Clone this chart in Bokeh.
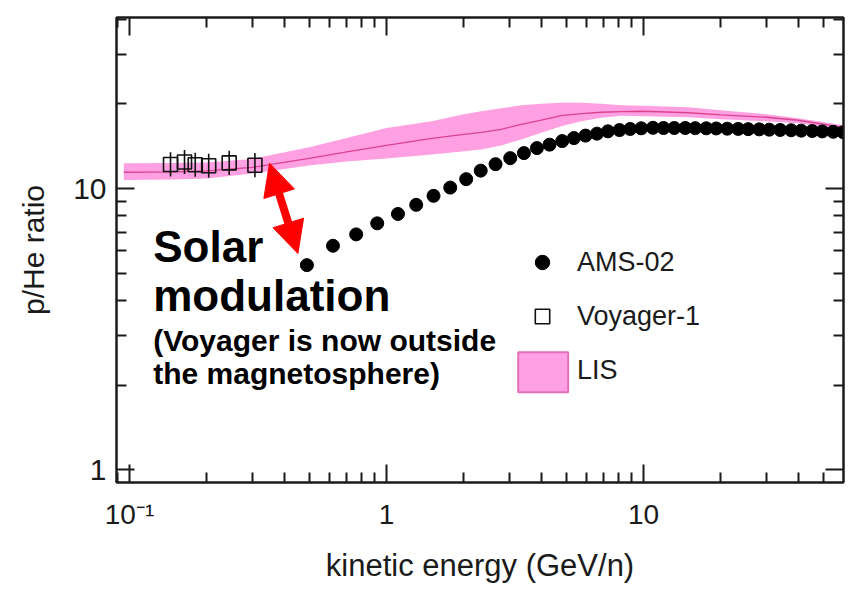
from bokeh.plotting import figure
from bokeh.models import (LogAxis, FixedTicker, Arrow, NormalHead, Label, Legend,
                          LegendItem, Range1d, BoxAnnotation)
from bokeh.embed import file_html
from bokeh.resources import INLINE

# ---------------- data ----------------
ams_e = [0.490, 0.619, 0.762, 0.920, 1.108, 1.305, 1.524, 1.770, 2.042, 2.326,
         2.656, 3.030, 3.425, 3.848, 4.309, 4.827, 5.361, 5.949, 6.589, 7.270,
         8.064, 8.877, 9.797, 10.88, 11.96, 13.17, 14.53, 15.89, 17.54, 19.18,
         21.17, 23.36, 25.55, 28.19, 30.84, 34.03, 37.55, 41.08, 45.34, 49.58,
         54.72, 59.84]
ams_ratio = [5.34, 6.26, 6.87, 7.52, 8.12, 8.75, 9.42, 10.08, 10.80, 11.58,
             12.21, 12.83, 13.37, 13.93, 14.33, 14.75, 15.12, 15.43, 15.68, 15.98,
             16.15, 16.29, 16.38, 16.45, 16.42, 16.42, 16.42, 16.40, 16.38, 16.36,
             16.33, 16.30, 16.27, 16.24, 16.20, 16.16, 16.12, 16.07, 16.02, 15.97,
             15.92, 15.87]

voy_e = [0.1444, 0.1637, 0.1802, 0.2033, 0.2443, 0.3076]
voy_ratio = [12.18, 12.43, 12.15, 12.06, 12.34, 12.11]
voy_lo = [11.03, 11.26, 11.01, 10.92, 11.18, 10.97]
voy_hi = [13.45, 13.72, 13.41, 13.31, 13.62, 13.37]

lis_e = [0.095, 0.15, 0.2, 0.3, 0.5, 0.7, 1, 1.5, 2, 2.336, 2.795, 3.344, 4.0,
         4.784, 5.72, 6.85, 8.19, 10, 15, 20, 30, 40, 60]
lis_mid = [11.43, 11.47, 11.55, 11.89, 12.80, 13.50, 14.24, 15.09, 15.59, 15.85,
           16.24, 16.93, 17.50, 18.16, 18.46, 18.68, 18.79, 18.84, 18.61, 18.30,
           17.93, 17.50, 16.51]
lis_hi = [12.31, 12.33, 12.38, 12.75, 14.02, 15.14, 16.41, 17.35, 18.38, 18.84,
          19.31, 19.79, 20.04, 20.20, 20.20, 20.04, 19.79, 19.71, 19.47, 19.00,
          18.38, 17.78, 16.79]
lis_lo = [10.72, 10.77, 10.86, 11.31, 12.08, 12.49, 12.80, 13.23, 13.56, 13.78,
          14.24, 14.96, 15.78, 16.65, 17.35, 17.86, 18.16, 18.08, 17.93, 17.64,
          17.35, 17.07, 16.24]

x_major = [0.1, 1, 10]
x_major_labels = ["10\u207b\u00b9", "1", "10"]
x_minor = [0.09, 0.2, 0.3, 0.4, 0.5, 0.6, 0.7, 0.8, 0.9,
           2, 3, 4, 5, 6, 7, 8, 9, 20, 30, 40, 50]
y_major = [1, 10]
y_major_labels = ["1", "10"]
y_minor = [2, 3, 4, 5, 6, 7, 8, 9, 20, 30, 40]

FONT = "Liberation Sans"
AX = "#1a1a1a"
PINK = "#ffa0e2"

p = figure(width=859, height=592, x_axis_type="log", y_axis_type="log",
           x_range=Range1d(0.089, 60), y_range=Range1d(0.9, 40.6),
           output_backend="svg", toolbar_location=None,
           min_border_left=116, min_border_right=16, min_border_top=17,
           min_border_bottom=110)
p.grid.visible = False
p.outline_line_color = AX
p.outline_line_width = 2
p.background_fill_color = "white"
p.border_fill_color = "white"


def style(ax, ticks, minors):
    ax.ticker = FixedTicker(ticks=ticks, minor_ticks=minors)
    ax.major_tick_in = 18
    ax.major_tick_out = 0
    ax.minor_tick_in = 10
    ax.minor_tick_out = 0
    ax.axis_line_color = AX
    ax.axis_line_width = 2
    ax.major_tick_line_color = AX
    ax.major_tick_line_width = 2
    ax.minor_tick_line_color = AX
    ax.minor_tick_line_width = 2
    ax.major_label_text_font = FONT
    ax.major_label_text_color = AX
    ax.axis_label_text_font = FONT
    ax.axis_label_text_font_style = "normal"
    ax.axis_label_text_color = AX


xa = p.xaxis[0]
style(xa, x_major, x_minor)
xa.major_label_overrides = dict(zip(x_major, x_major_labels))
xa.major_label_text_font_size = "28px"
xa.major_label_standoff = 16
xa.axis_label = "kinetic energy (GeV/n)"
xa.axis_label_text_font_size = "31px"
xa.axis_label_standoff = 15

ya = p.yaxis[0]
style(ya, y_major, y_minor)
ya.major_label_overrides = dict(zip(y_major, y_major_labels))
ya.major_label_text_font_size = "30px"
ya.major_label_standoff = 10
ya.axis_label = "p/He ratio"
ya.axis_label_text_font_size = "30px"
ya.axis_label_standoff = 20

top = LogAxis()
style(top, x_major, x_minor)
top.major_label_text_font_size = "1px"
top.major_label_text_color = None
top.major_label_standoff = 0
p.add_layout(top, "above")

right = LogAxis()
style(right, y_major, y_minor)
right.major_label_text_font_size = "1px"
right.major_label_text_color = None
right.major_label_standoff = 0
p.add_layout(right, "right")

# LIS band and central line
band = p.varea(x=lis_e, y1=lis_lo, y2=lis_hi, fill_color=PINK, fill_alpha=1.0)
p.line(lis_e, lis_mid, line_color="#d9438f", line_width=1.3)

# Voyager-1
p.segment(x0=voy_e, y0=voy_lo, x1=voy_e, y1=voy_hi, line_color="#111111", line_width=1.6)
voy = p.scatter(voy_e, voy_ratio, marker="square", size=14, fill_color=None,
                line_color="#111111", line_width=1.6)

# AMS-02
ams = p.scatter(ams_e, ams_ratio, marker="circle", size=13, fill_color="black",
                line_color="black")

# red double arrow
p.add_layout(Arrow(x_start=0.3506, y_start=12.31, x_end=0.452, y_end=5.874,
                   line_color="red", line_width=8,
                   start=NormalHead(size=32, fill_color="red", line_color="red"),
                   end=NormalHead(size=32, fill_color="red", line_color="red")))

# annotation text
for txt, yy, fs in [("Solar", 6.208, "44px"), ("modulation", 4.149, "44px"),
                    ("(Voyager is now outside", 2.888, "30px"),
                    ("the magnetosphere)", 2.202, "30px")]:
    p.add_layout(Label(x=0.1237, y=yy, text=txt, text_font=FONT, text_font_size=fs,
                       text_font_style="bold", text_color="black",
                       text_baseline="alphabetic", text_align="left"))

# bordered swatch behind the LIS legend entry
p.add_layout(BoxAnnotation(left=3.254, right=5.093, top=2.618, bottom=1.884,
                           fill_color=PINK, fill_alpha=1.0, line_color="#e070b8",
                           line_width=2, line_alpha=1.0))

legend = Legend(items=[LegendItem(label="AMS-02", renderers=[ams]),
                       LegendItem(label="Voyager-1", renderers=[voy]),
                       LegendItem(label="LIS", renderers=[band])],
                location=(401, 94), orientation="vertical",
                glyph_width=50, glyph_height=36, spacing=18, padding=0, margin=0,
                label_standoff=10, label_text_font=FONT, label_text_font_size="27px",
                label_text_color=AX, border_line_color=None, background_fill_alpha=0)
p.add_layout(legend)

open("out.html", "w").write(file_html(p, INLINE))
